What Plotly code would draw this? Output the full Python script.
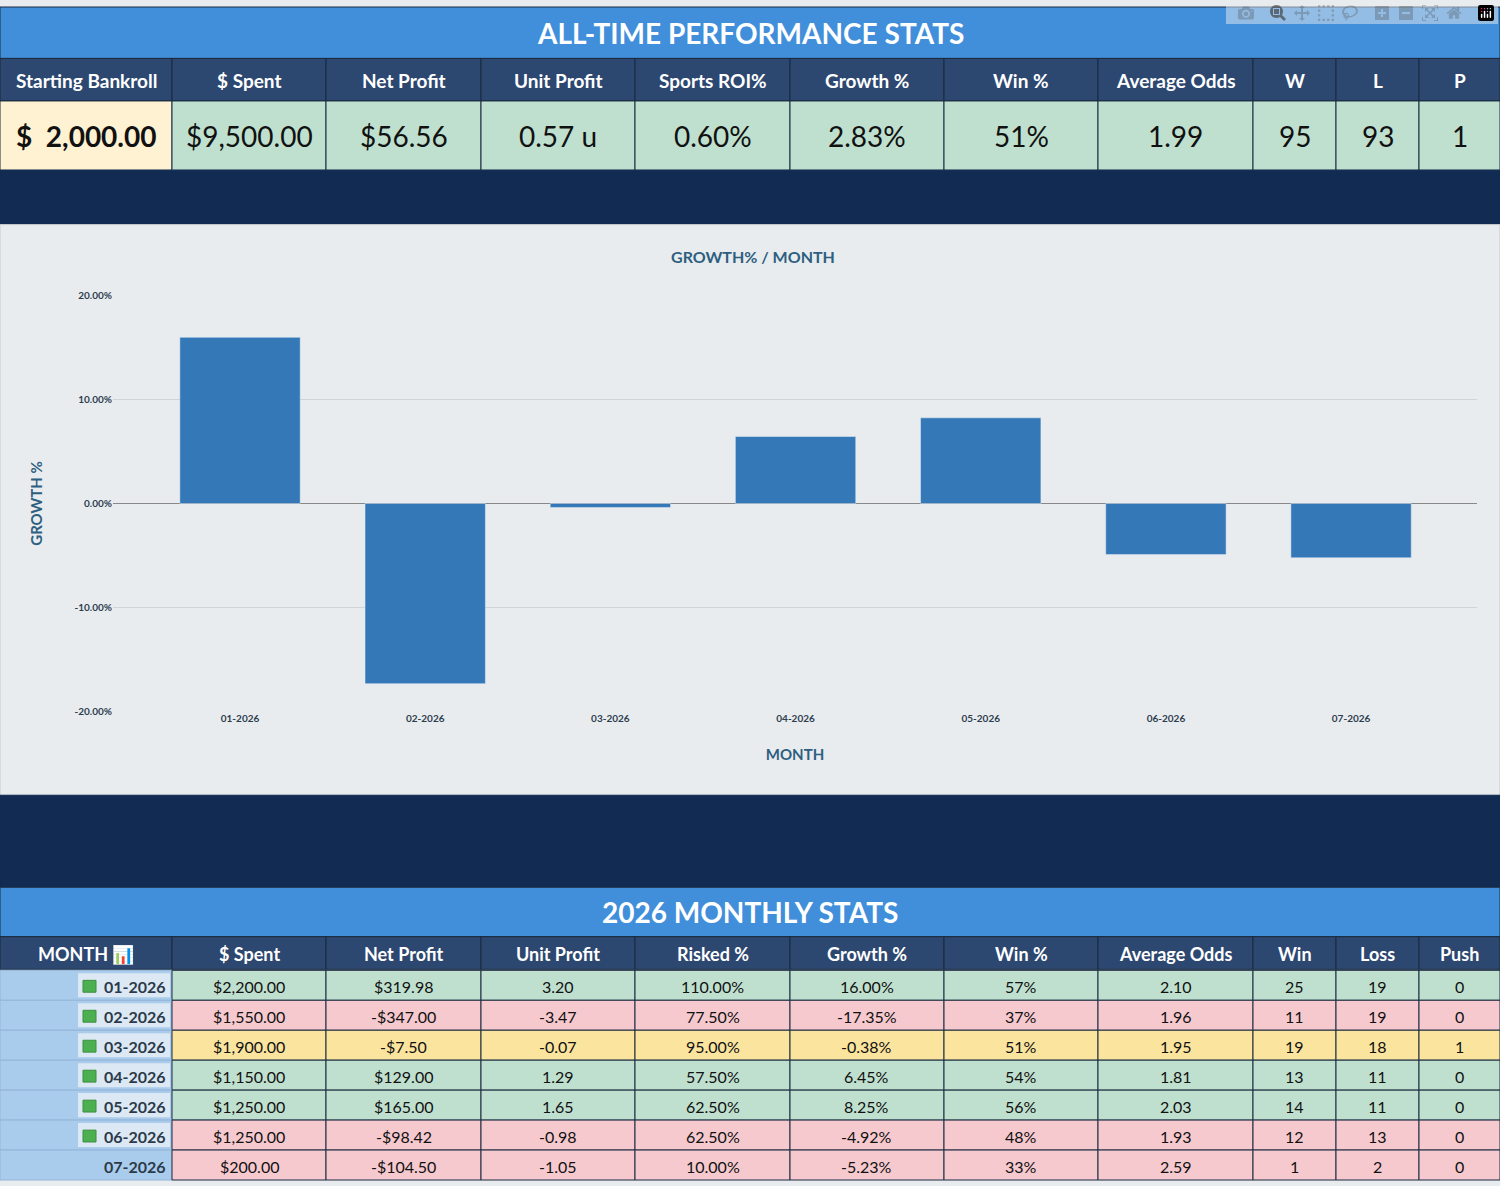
import plotly.graph_objects as go

# chart data
months = ["01-2026", "02-2026", "03-2026", "04-2026", "05-2026", "06-2026", "07-2026"]
growth = [16.00, -17.35, -0.38, 6.45, 8.25, -4.92, -5.23]

# all-time stats
top_headers = ["Starting Bankroll", "$ Spent", "Net Profit", "Unit Profit", "Sports ROI%",
               "Growth %", "Win %", "Average Odds", "W", "L", "P"]
top_values = ["$  2,000.00", "$9,500.00", "$56.56", "0.57 u", "0.60%", "2.83%", "51%", "1.99", "95", "93", "1"]

# monthly table
month_headers = ["MONTH 📊", "$ Spent", "Net Profit", "Unit Profit", "Risked %", "Growth %",
                 "Win %", "Average Odds", "Win", "Loss", "Push"]
spent = ["$2,200.00", "$1,550.00", "$1,900.00", "$1,150.00", "$1,250.00", "$1,250.00", "$200.00"]
net_profit = ["$319.98", "-$347.00", "-$7.50", "$129.00", "$165.00", "-$98.42", "-$104.50"]
unit_profit = ["3.20", "-3.47", "-0.07", "1.29", "1.65", "-0.98", "-1.05"]
risked = ["110.00%", "77.50%", "95.00%", "57.50%", "62.50%", "62.50%", "10.00%"]
growth_txt = ["16.00%", "-17.35%", "-0.38%", "6.45%", "8.25%", "-4.92%", "-5.23%"]
win_pct = ["57%", "37%", "51%", "54%", "56%", "48%", "33%"]
avg_odds = ["2.10", "1.96", "1.95", "1.81", "2.03", "1.93", "2.59"]
wins = ["25", "11", "19", "13", "14", "12", "1"]
losses = ["19", "19", "18", "11", "11", "13", "2"]
pushes = ["0", "0", "1", "0", "0", "0", "0"]
row_status = ["g", "r", "y", "g", "g", "r", "r"]

W, H = 1500, 1186
cols = [0, 172, 326, 481, 635, 790, 944, 1098, 1253, 1336, 1419, 1500]
FILL = {"g": "#BFE0CF", "r": "#F6C9CF", "y": "#FBE49E"}
FONT = "Lato"

shapes, annots = [], []

def px(x):
    return x / W

def py(y):
    return 1 - y / H

def rect(x0, y0, x1, y1, fill, line="#1B2B40", lw=1):
    shapes.append(dict(type="rect", xref="paper", yref="paper", x0=px(x0), x1=px(x1),
                       y0=py(y1), y1=py(y0), fillcolor=fill, line=dict(color=line, width=lw),
                       layer="below"))

def text(x, y, s, size, color="#111", bold=False, xanchor="center"):
    annots.append(dict(xref="paper", yref="paper", x=px(x), y=py(y), text=f"<b>{s}</b>" if bold else s,
                       showarrow=False, xanchor=xanchor, yanchor="middle",
                       font=dict(family=FONT, size=size, color=color)))

# top section
rect(0, 0, W, 52, "#418FDA")
text(750, 26, "ALL-TIME PERFORMANCE STATS", 28, "white", True)
for i, h in enumerate(top_headers):
    rect(cols[i], 52, cols[i + 1], 95, "#2C4770")
    text((cols[i] + cols[i + 1]) / 2, 74, h, 19, "white", True)
    rect(cols[i], 95, cols[i + 1], 165, "#FEF2D2" if i == 0 else "#BFE0CF")
    text((cols[i] + cols[i + 1]) / 2, 130, top_values[i], 28, "#111", i == 0)
rect(0, 165, W, 220, "#112B52", "#112B52")

# chart background
rect(0, 220, W, 797, "#E8ECEF", "#C8CCD0")
rect(0, 797, W, 890, "#112B52", "#112B52")

# monthly section
rect(0, 890, W, 940, "#418FDA")
text(750, 915, "2026 MONTHLY STATS", 28, "white", True)
for i, h in enumerate(month_headers):
    rect(cols[i], 940, cols[i + 1], 973, "#2C4770")
    text((cols[i] + cols[i + 1]) / 2, 957, h, 18, "white", True)

rh = (1186 - 974) / 7
columns = [spent, net_profit, unit_profit, risked, growth_txt, win_pct, avg_odds, wins, losses, pushes]
for r in range(7):
    y0 = 974 + r * rh
    yc = y0 + rh / 2 + 1
    rect(0, y0, 172, y0 + rh, "#A9CBEC", "#93B5D6")
    text(168, yc, months[r], 16, "#2B3A4A", True, "right")
    if r < 6:
        shapes.append(dict(type="rect", xref="paper", yref="paper", x0=px(78), x1=px(170),
                           y0=py(y0 + rh - 3), y1=py(y0 + 3), fillcolor="#DCE8F3",
                           line=dict(width=0), layer="below"))
        shapes.append(dict(type="rect", xref="paper", yref="paper", x0=px(83), x1=px(96),
                           y0=py(yc + 6), y1=py(yc - 6), fillcolor="#4CAF50",
                           line=dict(color="#3E8E41", width=1), layer="above"))
    for c, vals in enumerate(columns):
        rect(cols[c + 1], y0, cols[c + 2], y0 + rh, FILL[row_status[r]])
        text((cols[c + 1] + cols[c + 2]) / 2, yc, vals[r], 16, "#111")

fig = go.Figure(go.Bar(x=months, y=growth, marker_color="#3578B8", width=0.65))

fig.update_layout(
    width=W, height=H, margin=dict(l=0, r=0, t=0, b=0),
    paper_bgcolor="#E8ECEF", plot_bgcolor="#E8ECEF",
    shapes=shapes, annotations=annots, showlegend=False,
    font=dict(family=FONT),
    title=dict(text="<b>GROWTH% / MONTH</b>", x=px(753), xanchor="center", y=py(257), yanchor="middle",
               font=dict(size=16, color="#2E5F80")),
    xaxis=dict(domain=[px(113), px(1477)], range=[-0.686, 6.68],
               tickfont=dict(size=10, color="#2E3E4E", weight="bold"),
               showgrid=False, ticks="", anchor="y",
               title=dict(text="<b>MONTH</b>", font=dict(size=15, color="#2E5F80"), standoff=26)),
    yaxis=dict(domain=[py(712), py(292)], range=[-20, 20], tickvals=[-20, -10, 0, 10, 20],
               ticktext=["-20.00%", "-10.00%", "0.00%", "10.00%", "20.00%"],
               tickfont=dict(size=10, color="#2E3E4E", weight="bold"), gridcolor="#CFD4D8",
               zeroline=True, zerolinecolor="#888", zerolinewidth=1,
               title=dict(text="<b>GROWTH %</b>", font=dict(size=15, color="#2E5F80"), standoff=28)),
)

fig.write_html("out.html", post_script="document.body.style.margin='0';")
